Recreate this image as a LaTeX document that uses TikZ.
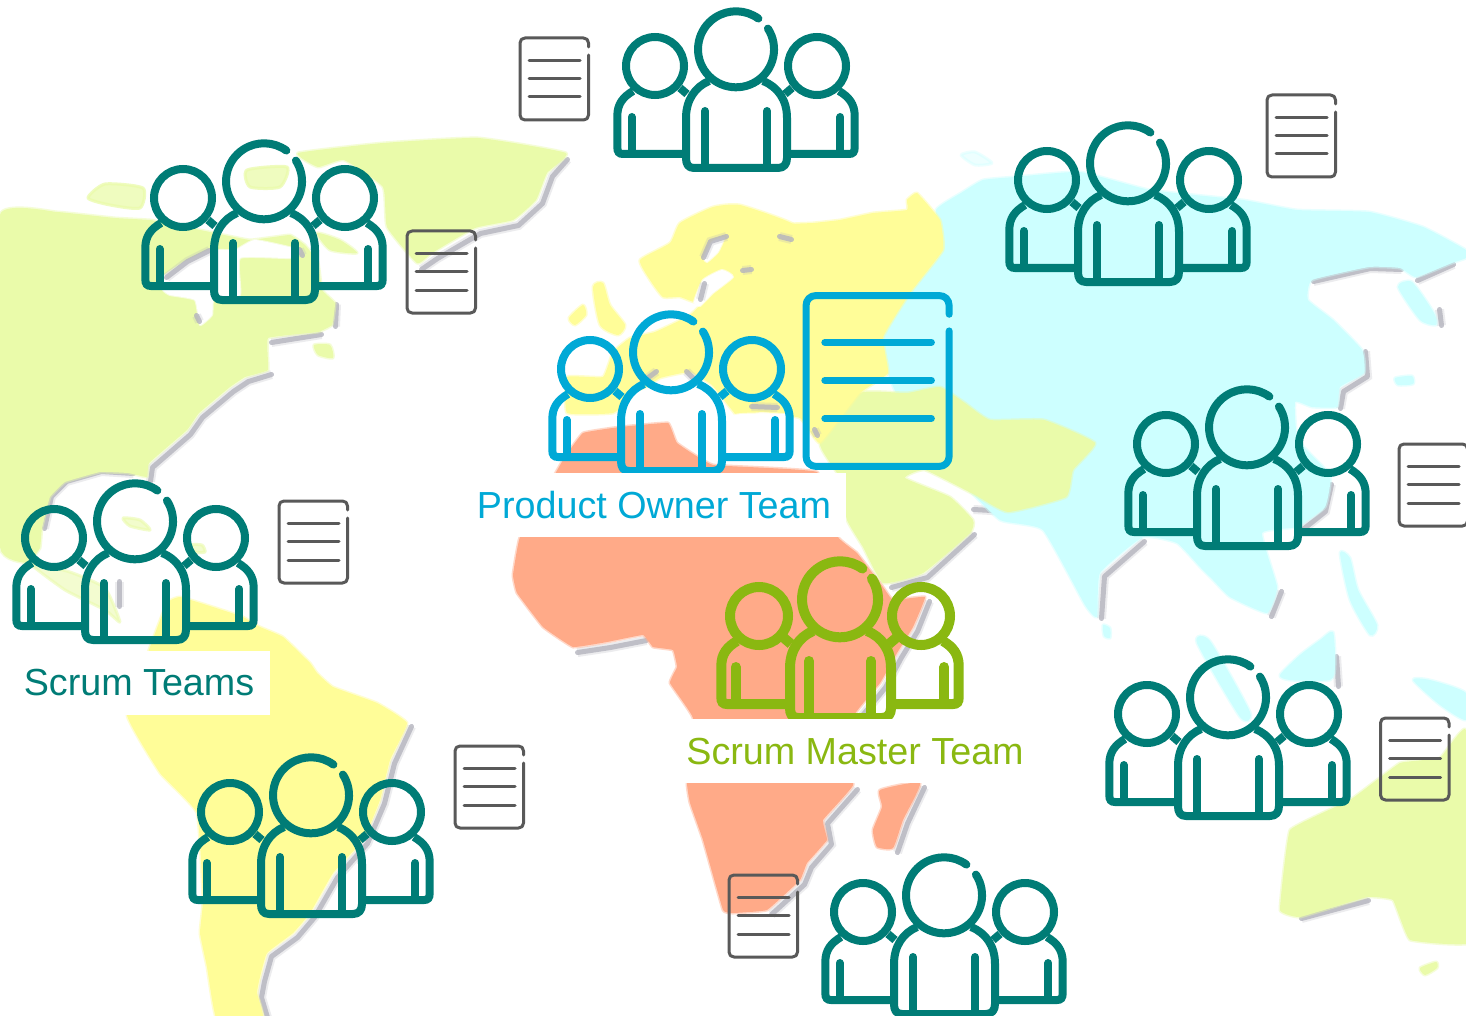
\documentclass[tikz,border=0pt]{standalone}
\usepackage{fontspec}
\setmainfont{Liberation Sans}
\definecolor{tealc}{HTML}{007C76}
\definecolor{bluec}{HTML}{00A9D6}
\definecolor{greenc}{HTML}{8AB811}
\definecolor{docgray}{HTML}{595959}
\definecolor{landgreen}{HTML}{EAFBAA}
\definecolor{landyellow}{HTML}{FFFD98}
\definecolor{landcyan}{HTML}{CDFFFF}
\definecolor{landsalmon}{HTML}{FFAA88}
\definecolor{coastgray}{HTML}{B4B4BE}
\tikzset{
  land/.style={fill=#1,draw=#1,draw opacity=.45,line width=3pt,line join=round},
  sea/.style={fill=white,draw=white,draw opacity=.6,line width=2pt,line join=round},
  coast/.style={shift={(1.5,1.5)},draw=coastgray,line width=5pt,line cap=round,line join=round,draw opacity=.8,
    preaction={draw=coastgray,draw opacity=.25,line width=9pt}},
  pics/team/.style={code={
    \draw[line cap=round] (154.9,20.6) arc[start angle=33,end angle=-306,radius=38pt];
    \draw (42,58) circle[radius=29pt];
    \draw (204,58) circle[radius=29pt];
    \draw[line join=round] (96,73) .. controls (82,79) and (73,92) .. (73,110) -- (73,150)
      .. controls (73,156) and (75,160) .. (81,160) -- (165,160)
      .. controls (171,160) and (174,156) .. (174,150) -- (174,110)
      .. controls (174,92) and (165,79) .. (150,73);
    \draw[line cap=round] (92,103) -- (92,158);
    \draw[line cap=round] (154,103) -- (154,158);
    \draw (20,83) .. controls (10,89) and (4.3,96) .. (4.3,108) -- (4.3,139)
      .. controls (4.3,144) and (6,146) .. (10,146) -- (70,146);
    \draw (67,80) -- (74,86);
    \draw[line cap=round] (18.7,109) -- (18.7,144);
    \draw (226,83) .. controls (236,89) and (241.7,96) .. (241.7,108) -- (241.7,139)
      .. controls (241.7,144) and (240,146) .. (236,146) -- (176,146);
    \draw (179,80) -- (172,86);
    \draw[line cap=round] (227.3,109) -- (227.3,144);
  }},
  pics/docsheet/.style={code={
    \draw[line cap=round,line join=round] (68.5,9) -- (68.5,5) .. controls (68.5,2) and (66.5,0) .. (63.5,0)
      -- (5,0) .. controls (2,0) and (0,2) .. (0,5) -- (0,77)
      .. controls (0,80) and (2,82) .. (5,82) -- (63.5,82)
      .. controls (66.5,82) and (68.5,80) .. (68.5,77) -- (68.5,17);
    \draw[line cap=round] (9,22.5) -- (60,22.5);
    \draw[line cap=round] (9,40.7) -- (60,40.7);
    \draw[line cap=round] (9,59) -- (60,59);
  }},
  teamteal/.style={color=tealc,line width=8pt},
  docsmall/.style={color=docgray,line width=3pt},
  tag/.style={fill=white,inner sep=0pt,minimum height=64pt,text height=30pt,text depth=4pt,
    font=\fontsize{37.7}{40}\selectfont}
}
\begin{document}
\begin{tikzpicture}[x=1pt,y=-1pt]
\path[use as bounding box,clip] (0,0) rectangle (1466,1016);
\fill[white] (0,0) rectangle (1466,1016);

% --- coast shadows (under the land) ---
\draw[coast] (566,158) -- (551,175) -- (541,202) -- (517,224) -- (479,232) -- (436,257) -- (420,268);
\draw[coast] (270,341) -- (320,333);
\draw[coast] (335,303) -- (334,325);
\draw[coast] (270,373) -- (247,380) -- (232,390) -- (201,416) -- (189,433) -- (151,466) -- (149,480);
\draw[coast] (132,472) -- (100,470) -- (65,480) -- (50,495) -- (43,527);
\draw[coast] (118,580) -- (118,605);
\draw[coast] (410,725) -- (393,762) -- (383,802) -- (366,842) -- (336,876) -- (313,916) -- (296,936) -- (270,955) -- (263,980) -- (260,996) -- (266,1016);
\draw[coast] (576,651) -- (609,646) -- (645,639);
\draw[coast] (856,788) -- (826,822) -- (830,843) -- (810,866) -- (803,883) -- (770,913);
\draw[coast] (923,786) -- (906,822) -- (896,851);
\draw[coast] (928,600) -- (916,630) -- (900,656) -- (884,686) -- (856,720);
\draw[coast] (973,533) -- (926,576) -- (890,586);
\draw[coast] (972,508) -- (1008,510);
\draw[coast] (1143,540) -- (1103,575) -- (1100,617);
\draw[coast] (1312,280) -- (1369,267) -- (1400,268);
\draw[coast] (1416,279) -- (1452,263);
\draw[coast] (1364,350) -- (1366,375) -- (1342,390) -- (1339,407);
\draw[coast] (1330,483) -- (1324,510) -- (1299,530);
\draw[coast] (1280,590) -- (1270,615);
\draw[coast] (1335,655) -- (1337,685);
\draw[coast] (1300,917) -- (1367,899);
\draw[coast] (1440,935) -- (1466,928);
\draw[coast] (1438,308) -- (1440,324);

% --- Asia ---
\fill[land=landcyan] plot[smooth cycle,tension=.25] coordinates {
 (936,210) (961,193) (983,180) (1015,177) (1080,172) (1150,190) (1243,200) (1297,210) (1369,212)
 (1423,227) (1466,250) (1466,258) (1452,263) (1416,277) (1400,268) (1369,267) (1312,280) (1308,300)
 (1333,320) (1362,350) (1364,373) (1340,387) (1337,407) (1312,407) (1295,402) (1298,440) (1330,475)
 (1325,507) (1297,527) (1262,533) (1277,587) (1267,613) (1230,597) (1213,580) (1200,567) (1177,543)
 (1143,537) (1100,573) (1097,617) (1085,605) (1043,530) (1000,520) (960,480) (900,400) (888,373)
 (883,337) (910,293) (943,250)};
\fill[land=landcyan] plot[smooth cycle,tension=.4] coordinates {(1398,287) (1412,282) (1434,313) (1436,325) (1420,320)};
\fill[land=landcyan] plot[smooth cycle,tension=.4] coordinates {(1197,643) (1210,641) (1250,712) (1240,717)};
\fill[land=landcyan] plot[smooth cycle,tension=.4] coordinates {(1280,675) (1300,655) (1320,640) (1333,632) (1335,665) (1330,680) (1290,680)};
\fill[land=landcyan] plot[smooth cycle,tension=.4] coordinates {(1340,553) (1350,558) (1358,590) (1377,625) (1370,635) (1350,600)};
\fill[land=landcyan] plot[smooth cycle,tension=.4] coordinates {(1413,680) (1430,680) (1466,693) (1466,720) (1440,705)};
\fill[land=landcyan] plot[smooth cycle,tension=.4] coordinates {(1103,625) (1110,628) (1110,638) (1104,636)};
\fill[land=landcyan] plot[smooth cycle,tension=.4] coordinates {(1395,378) (1412,376) (1413,384) (1398,385)};
\fill[land=landcyan,opacity=.35] plot[smooth cycle,tension=.4] coordinates {(961,155) (975,152) (992,163) (975,165)};

% --- Middle East ---
\fill[land=landgreen] plot[smooth cycle,tension=.25] coordinates {
 (820,443) (860,393) (907,393) (940,387) (965,403) (990,420) (1044,420) (1095,443) (1073,470)
 (1066,497) (1008,512) (975,495) (925,470) (905,478) (950,497) (973,520) (970,533) (923,573) (883,583)
 (863,547) (847,520) (838,475)};

% --- Europe ---
\fill[land=landyellow] plot[smooth cycle,tension=.2] coordinates {
 (907,200) (917,193) (940,220) (943,250) (910,293) (883,337) (888,373) (860,393) (820,443) (800,418)
 (760,412) (745,425) (728,405) (712,385) (690,372) (660,378) (640,392) (613,413) (567,413) (567,377) (603,377)
 (613,352) (630,338) (655,332) (690,315) (720,285) (745,262) (770,232) (793,224) (813,223) (840,220) (873,213) (907,210)};
\fill[land=landyellow] plot[smooth cycle,tension=.3] coordinates {
 (640,260) (670,243) (680,223) (713,207) (740,205) (793,224) (800,250) (740,290) (700,303) (680,297) (663,297) (650,280)};
\fill[land=landyellow] plot[smooth cycle,tension=.4] coordinates {(593,287) (603,283) (610,305) (625,325) (618,335) (600,325)};
\fill[land=landyellow] plot[smooth cycle,tension=.4] coordinates {(569,318) (583,305) (586,315) (575,325)};

% Baltic and seas
\fill[sea] plot[smooth cycle,tension=.3] coordinates {(694,302) (703,280) (722,270) (733,277) (713,293) (700,306)};
\fill[sea] plot[smooth cycle,tension=.3] coordinates {(704,258) (712,242) (724,238) (718,252) (707,262)};
\fill[sea] plot[smooth cycle,tension=.3] coordinates {(630,395) (665,385) (690,395) (715,420) (720,445) (640,435) (625,420)};
\fill[sea] plot[smooth cycle,tension=.3] coordinates {(735,415) (790,415) (795,440) (770,460) (725,440)};
\draw[coast] (699,298) -- (703,282);
\draw[coast] (702,256) -- (709,240) -- (725,235);
\draw[coast] (741,269) -- (750,268);
\draw[coast] (778,235) -- (790,238);
\draw[coast] (655,370) -- (640,381);
\draw[coast] (685,370) -- (695,380);
\draw[coast] (750,405) -- (776,406);
\draw[coast] (813,428) -- (816,434);

% --- North America and Greenland ---
\fill[land=landgreen] plot[smooth cycle,tension=.15] coordinates {
 (0,215) (57,212) (115,218) (150,220) (175,225) (210,232) (250,240) (290,235) (305,245) (318,262) (322,290) (335,303) (332,325)
 (318,332) (268,338) (268,370) (245,377) (230,387) (199,413) (187,430) (149,463) (147,477) (128,473) (100,472) (65,482) (50,497)
 (42,527) (40,548) (28,563) (0,547)};
\fill[land=landgreen,opacity=.55] plot[smooth cycle,tension=.3] coordinates {(30,563) (70,572) (105,588) (120,622) (105,610) (65,590)};
\fill[land=landgreen] plot[smooth cycle,tension=.25] coordinates {
 (298,153) (383,143) (478,138) (566,153) (547,173) (536,200) (513,220) (475,228) (432,253) (417,263) (387,227) (383,187) (344,160) (318,167)};
\fill[land=landgreen,opacity=.75] plot[smooth cycle,tension=.4] coordinates {(88,198) (105,184) (143,188) (140,208) (110,205)};
\fill[land=landgreen,opacity=.75] plot[smooth cycle,tension=.4] coordinates {(247,170) (287,167) (280,187) (250,187)};
\fill[land=landgreen] plot[smooth cycle,tension=.4] coordinates {(317,233) (340,240) (357,253) (330,250)};
\fill[land=landgreen] plot[smooth cycle,tension=.4] coordinates {(314,345) (330,345) (333,358) (318,355)};
\fill[land=landgreen,opacity=.6] plot[smooth cycle,tension=.4] coordinates {(123,518) (140,520) (150,530) (130,526)};
\fill[land=landgreen,opacity=.6] plot[smooth cycle,tension=.4] coordinates {(190,545) (202,545) (205,552) (195,552)};
% Hudson Bay
\fill[sea] plot[smooth cycle,tension=.25] coordinates {
 (163,277) (185,262) (210,250) (235,250) (255,240) (300,250) (290,258) (240,258) (240,295) (214,297) (212,315) (200,325) (195,300) (170,295) (163,290)};
\draw[coast] (165,276) -- (186,260) -- (208,249);
\draw[coast] (195,314) -- (198,320);
\draw[coast] (298,248) -- (301,254);

% --- South America ---
\fill[land=landyellow] plot[smooth cycle,tension=.2] coordinates {
 (150,647) (167,603) (180,597) (213,607) (243,617) (260,627) (283,637) (310,663) (317,673) (333,687) (377,703) (407,723)
 (390,760) (380,800) (363,840) (333,873) (310,913) (293,933) (267,953) (260,977) (257,993) (263,1020) (217,1020)
 (207,967) (200,933) (203,900) (197,813) (160,773) (127,715)};

% --- Africa ---
\fill[land=landsalmon] plot[smooth cycle,tension=.15] coordinates {
 (520,537) (563,460) (583,433) (620,427) (668,423) (677,443) (713,465) (817,472) (838,537) (857,553) (883,587) (893,600) (925,597)
 (913,627) (897,653) (880,683) (853,717) (853,785) (823,820) (827,840) (807,863) (800,880) (767,910) (733,913) (723,910) (703,840)
 (690,803) (687,783) (693,718) (670,683) (677,667) (673,650) (653,647) (643,635) (607,642) (573,647) (543,627) (517,593) (513,575)};
\fill[land=landsalmon] plot[smooth cycle,tension=.3] coordinates {(880,790) (920,783) (903,820) (893,848) (877,847) (873,830) (882,807)};

% --- Australia ---
\fill[land=landgreen] plot[smooth cycle,tension=.15] coordinates {
 (1280,910) (1290,830) (1350,800) (1400,763) (1440,758) (1466,730) (1480,940) (1410,940) (1393,900) (1367,897) (1300,917)};
\fill[land=landgreen] plot[smooth cycle,tension=.4] coordinates {(1420,968) (1436,962) (1437,968) (1425,975)};

% --- teams ---
\pic[teamteal] (t1) at (613,8) {team};
\pic[teamteal] (t2) at (1005,122) {team};
\pic[teamteal] (t3) at (141,140) {team};
\pic[teamteal] (t5) at (1124,386) {team};
\pic[teamteal] (t6) at (12,480) {team};
\pic[teamteal] (t8) at (1105,656) {team};
\pic[teamteal] (t9) at (188,754) {team};
\pic[teamteal] (t10) at (821,854) {team};
\pic[color=bluec,line width=8pt] (po) at (548,311) {team};
\pic[color=greenc,line width=10pt] (sm) at (717,558) {team};

% --- documents ---
\pic[docsmall] (d1) at (520,38) {docsheet};
\pic[docsmall] (d2) at (1267,95) {docsheet};
\pic[docsmall] (d3) at (407,231) {docsheet};
\pic[docsmall] (d5) at (1399,444) {docsheet};
\pic[docsmall] (d6) at (279,501) {docsheet};
\pic[docsmall] (d8) at (1380.5,718) {docsheet};
\pic[docsmall] (d9) at (455,746) {docsheet};
\pic[docsmall] (d10) at (729,875) {docsheet};
\pic[color=bluec,line width=7pt,xscale=2.09,yscale=2.085] (dpo) at (806,295.5) {docsheet};

% --- labels ---
\node[tag,text=bluec,minimum width=384pt] (lpo) at (654,505) {Product Owner Team};
\node[tag,text=greenc,minimum width=360pt] (lsm) at (855,751) {Scrum Master Team};
\node[tag,text=tealc,minimum width=262pt] (lst) at (139,682.5) {Scrum Teams};
\end{tikzpicture}
\end{document}
